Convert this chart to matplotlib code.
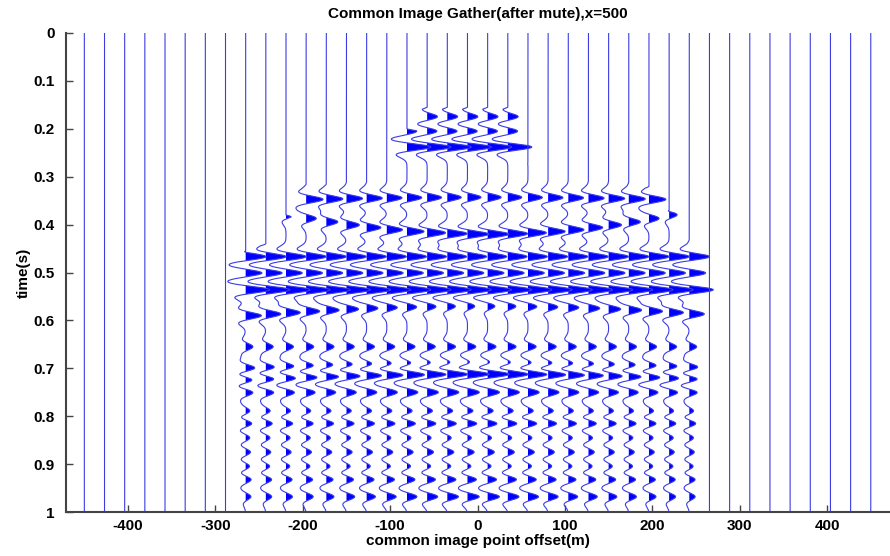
import numpy as np
import matplotlib
matplotlib.use("Agg")
from matplotlib import pyplot as plt

plt.rcParams['font.family'] = ['Liberation Sans', 'DejaVu Sans']
plt.rcParams['font.weight'] = 'bold'
plt.rcParams['axes.unicode_minus'] = False

# trace offsets (m) of the common image gather
offsets = np.linspace(-450, 450, 40)

# mute time (s) per trace, 1.0 = fully muted
mute_times = [1.0, 1.0, 1.0, 1.0, 1.0, 1.0, 1.0, 1.0,
              0.455, 0.44, 0.38, 0.315, 0.315, 0.31, 0.31, 0.30,
              0.20, 0.155, 0.155, 0.155, 0.155, 0.155, 0.27, 0.285,
              0.295, 0.30, 0.305, 0.31, 0.32, 0.37, 0.43,
              1.0, 1.0, 1.0, 1.0, 1.0, 1.0, 1.0, 1.0, 1.0]

# reflection events: zero-offset time (s), residual moveout at |x|=265 m (s),
# amplitude near zero offset and at the far offsets (in trace spacings)
event_t0 = [0.175, 0.205, 0.238, 0.343, 0.42, 0.467, 0.501, 0.536, 0.57,
            0.655, 0.69, 0.712, 0.75, 0.79, 0.815, 0.845, 0.875, 0.905,
            0.932, 0.968]
event_rmo = [0.0, 0.0, 0.0, 0.008, -0.06, 0.0, 0.0, 0.0, 0.02,
             0.0, 0.01, 0.012, 0.0, 0.0, 0.0, 0.0, 0.0, 0.0,
             0.0, 0.0]
event_amp_near = [0.45, 0.45, 1.0, 0.55, 0.9, 0.8, 0.7, 1.0, 0.3,
                  0.35, 0.3, 1.0, 0.5, 0.3, 0.45, 0.2, 0.3, 0.2,
                  0.4, 0.5]
event_amp_far = [0.45, 0.45, 1.0, 0.75, 0.25, 0.85, 0.7, 1.0, 0.65,
                 0.3, 0.45, 0.4, 0.35, 0.22, 0.3, 0.2, 0.22, 0.2,
                 0.25, 0.22]

f0 = 24.0
gain = 1.2
dt = 0.0005
t = np.arange(0, 1.0 + dt / 2, dt)
spacing = offsets[1] - offsets[0]


def ricker(tt, f):
    a = (np.pi * f * tt) ** 2
    return (1 - 2 * a) * np.exp(-a)


fig = plt.figure(figsize=(8.9, 5.56), dpi=100)
ax = fig.add_axes([66 / 890, 1 - 512 / 556, 1 - 66 / 890, (512 - 33) / 556])

for x0, tm in zip(offsets, mute_times):
    tr = np.zeros_like(t)
    r = min(abs(x0) / 265.0, 1.2)
    for t0, rmo, an, af in zip(event_t0, event_rmo, event_amp_near, event_amp_far):
        te = t0 + rmo * r ** 2
        amp = an + (af - an) * r
        tr += amp * ricker(t - te, f0)
    # apply mute with a short taper
    taper = np.clip((t - tm) / 0.004, 0, 1)
    tr *= taper * gain
    xs = x0 + tr * spacing
    ax.fill_betweenx(t, x0, xs, where=tr > 0, interpolate=True,
                     color='#0000ff', lw=0)
    ax.plot(xs, t, color='#3c3ce6', lw=0.8)

ax.set_xlim(-471, 472)
ax.set_ylim(1, 0)
ax.set_xticks([-400, -300, -200, -100, 0, 100, 200, 300, 400])
ax.set_yticks(np.arange(0, 1.01, 0.1))
ax.set_yticklabels(['0', '0.1', '0.2', '0.3', '0.4', '0.5', '0.6', '0.7',
                    '0.8', '0.9', '1'])
ax.tick_params(direction='in', length=5, width=1, colors='#444444',
               labelcolor='black', labelsize=11)
ax.tick_params(axis='y', pad=8)
ax.tick_params(axis='x', pad=5)
for s in ['top', 'right']:
    ax.spines[s].set_visible(False)
for s in ['left', 'bottom']:
    ax.spines[s].set_color('#444444')
    ax.spines[s].set_linewidth(1.5)

ax.set_title('Common Image Gather(after mute),x=500', fontsize=11,
             fontweight='bold', pad=11)
ax.set_xlabel('common image point offset(m)', fontsize=11, fontweight='bold',
              labelpad=1)
ax.set_ylabel('time(s)', fontsize=11, fontweight='bold', labelpad=2)

fig.savefig('out.png', dpi=100)
